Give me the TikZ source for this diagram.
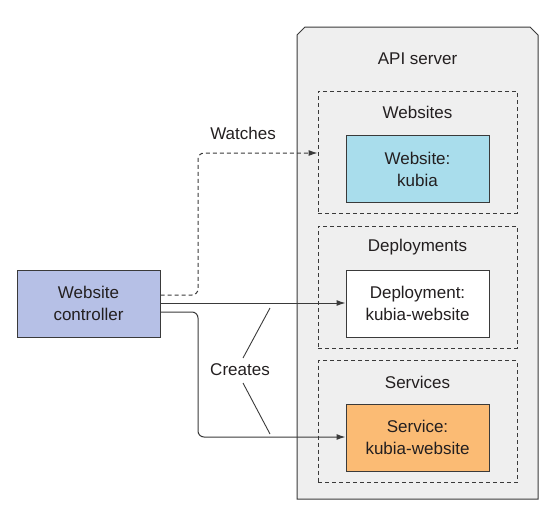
\documentclass[tikz,border=0pt]{standalone}
\usepackage{fontspec}
\setmainfont{Liberation Sans}
\usetikzlibrary{arrows.meta,calc}
\definecolor{ink}{HTML}{3A3A3A}
\definecolor{txt}{HTML}{231F20}
\definecolor{ctrlfill}{HTML}{B6C0E6}
\definecolor{webfill}{HTML}{A9DDEC}
\definecolor{svcfill}{HTML}{FBBB74}
\definecolor{apifill}{HTML}{EFEFEF}
\tikzset{
  lbl/.style={font=\fontsize{17}{22}\selectfont, text=txt, align=center},
  obj/.style={draw=ink, line width=1pt, minimum width=143pt, minimum height=67pt, lbl, inner sep=0pt},
  group/.style={draw=ink, line width=0.9pt, dash pattern=on 4pt off 3pt, minimum width=199pt, minimum height=122pt, inner sep=0pt},
  conn/.style={draw=ink, line width=1pt, rounded corners=6pt, -{Latex[length=9pt,width=6pt]}},
}
\begin{document}
\begin{tikzpicture}[x=1pt,y=-1pt]
\useasboundingbox (0,0) rectangle (556,514);
% API server
\draw[ink, fill=apifill, line width=1pt] (297,499) -- (297,35) -- (305,27) -- (530,27) -- (538,35) -- (538,499) -- cycle;
\node[lbl] (api) at (417.5,59) {API server};
% groups
\node[group] (websites) at (417.5,152) {};
\node[group] (deployments) at (417.5,287) {};
\node[group] (services) at (417.5,421.5) {};
\node[lbl] (websitesL) at (417.5,112) {Websites};
\node[lbl] (deploymentsL) at (417.5,247) {Deployments};
\node[lbl] (servicesL) at (417.5,382) {Services};
% objects
\node[obj, fill=webfill] (website) at (417.5,169) {Website:\\kubia};
\node[obj, fill=white] (deploy) at (417.5,303.5) {Deployment:\\kubia-website};
\node[obj, fill=svcfill] (svc) at (417.5,437.5) {Service:\\kubia-website};
% controller
\node[obj, fill=ctrlfill] (ctrl) at (88.5,303.5) {Website\\controller};
% connectors
\draw[conn, dash pattern=on 4pt off 3pt] (ctrl.east |- 0,295) -| (198,153) -- (websites.west |- 0,153);
\draw[conn] (ctrl.east |- 0,303) -- (deploy.west |- 0,303);
\draw[conn] (ctrl.east |- 0,312) -| (198,437) -- (svc.west |- 0,437);
% labels
\node[lbl] (watches) at (243,133) {Watches};
\node[lbl] (creates) at (240,370) {Creates};
\draw[ink, line width=0.9pt] (243,358) -- (270,308);
\draw[ink, line width=0.9pt] (243,383) -- (270,434);
\end{tikzpicture}
\end{document}
